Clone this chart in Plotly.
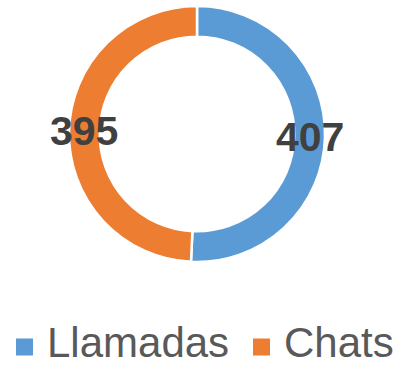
import math
import plotly.graph_objects as go

# Data
categories = ["Llamadas", "Chats"]
values = [407, 395]
colors = ["#5B9BD5", "#ED7D31"]

W, H = 398, 367
cx, cy, R = 197, 134, 128      # donut centre and outer radius (px)
hole = 0.76
label_r = 113                  # radius at which value labels sit (px)

fig = go.Figure(
    go.Pie(
        labels=categories,
        values=values,
        hole=hole,
        sort=False,
        direction="clockwise",
        rotation=0,
        marker=dict(colors=colors, line=dict(color="white", width=2.5)),
        textinfo="none",
        hoverinfo="label+value",
        showlegend=False,
        domain=dict(x=[(cx - R) / W, (cx + R) / W],
                    y=[1 - (cy + R) / H, 1 - (cy - R) / H]),
    )
)

# Value labels at each slice's mid-angle
total = sum(values)
start = 0.0
for v in values:
    mid = (start + v / 2) / total * 2 * math.pi
    start += v
    px = cx + label_r * math.sin(mid)
    py = cy - label_r * math.cos(mid)
    fig.add_annotation(
        x=px / W, y=1 - py / H, xref="paper", yref="paper",
        text=f"<b>{v}</b>", showarrow=False,
        xanchor="center", yanchor="middle",
        font=dict(family="Liberation Sans, Arial, sans-serif", size=41, color="#404040"),
    )

# Legend drawn as square swatches + labels
legend_items_x = [16, 253]
sq = 17
legend_y = 347
for name, col, x0 in zip(categories, colors, legend_items_x):
    fig.add_shape(
        type="rect", xref="paper", yref="paper",
        x0=x0 / W, x1=(x0 + sq) / W,
        y0=1 - (legend_y + sq / 2) / H, y1=1 - (legend_y - sq / 2) / H,
        fillcolor=col, line=dict(width=0),
    )
    fig.add_annotation(
        x=(x0 + sq + 13) / W, y=0, xref="paper", yref="paper",
        text=name, showarrow=False, xanchor="left", yanchor="bottom",
        borderpad=0,
        font=dict(family="Liberation Sans, Arial, sans-serif", size=42, color="#595959"),
    )

fig.update_layout(
    width=W, height=H,
    margin=dict(l=0, r=0, t=0, b=0),
    paper_bgcolor="white", plot_bgcolor="white",
)

fig.write_html("out.html", config={"displayModeBar": False})
